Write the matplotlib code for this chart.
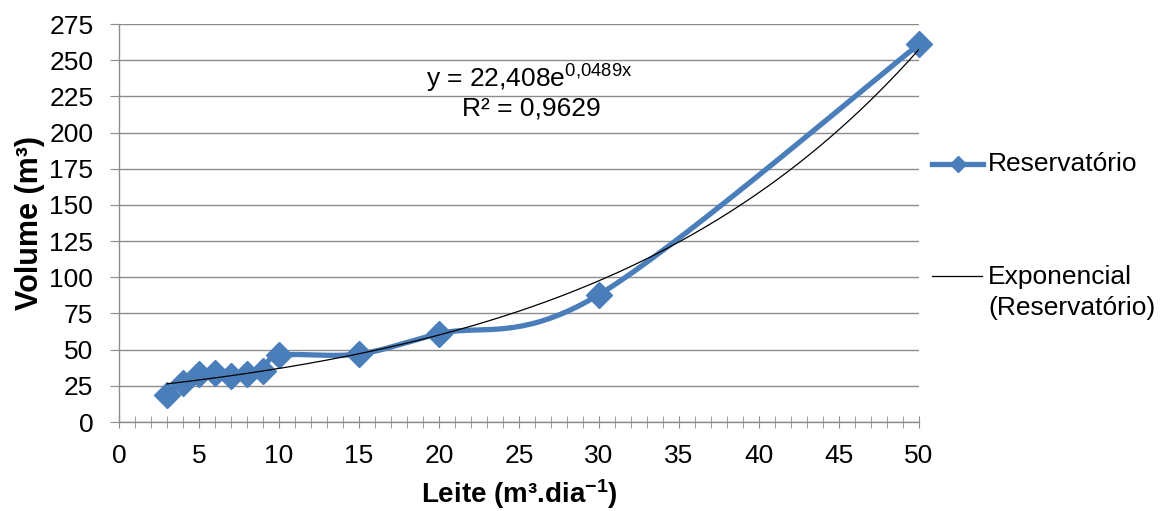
import numpy as np
import matplotlib
matplotlib.use("Agg")
import matplotlib.pyplot as plt
from matplotlib.lines import Line2D

plt.rcParams['font.family'] = ['Liberation Sans', 'DejaVu Sans']
plt.rcParams['mathtext.fontset'] = 'custom'
plt.rcParams['mathtext.rm'] = 'Liberation Sans'
plt.rcParams['mathtext.it'] = 'Liberation Sans'
plt.rcParams['mathtext.bf'] = 'Liberation Sans:bold'

leite = [3, 4, 5, 6, 7, 8, 9, 10, 15, 20, 30, 50]
volume = [19, 27, 33, 34, 32, 33, 35, 46, 47, 61, 88, 261]
series_name = "Reservatório"
trend_lines = ["Exponencial", "(Reservatório)"]
eq_text = r"y = 22,408e$^{\mathregular{0{,}0489x}}$"
r2_text = "R² = 0,9629"
xticks = list(range(0, 51, 5))
yticks = list(range(0, 276, 25))

BLUE = '#4A7EBB'
GRID = '#8C8C8C'
FS = 19


def smooth_curve(xs, ys, n=40):
    P = np.column_stack([xs, ys]).astype(float)
    out = []
    m = len(P)
    for i in range(m - 1):
        p0 = P[i - 1] if i > 0 else P[i]
        p1 = P[i]
        p2 = P[i + 1]
        p3 = P[i + 2] if i + 2 < m else P[i + 1]
        c1 = p1 + (p2 - p0) / 6.0
        c2 = p2 - (p3 - p1) / 6.0
        t = np.linspace(0, 1, n)[:, None]
        seg = ((1 - t) ** 3) * p1 + 3 * ((1 - t) ** 2) * t * c1 + 3 * (1 - t) * t ** 2 * c2 + t ** 3 * p2
        out.append(seg if i == 0 else seg[1:])
    s = np.vstack(out)
    return s[:, 0], s[:, 1]


W, H = 1162, 511
fig = plt.figure(figsize=(W / 100, H / 100), dpi=100)
ax = fig.add_axes([119 / W, 1 - 422 / H, 800 / W, (422 - 24) / H])

ax.set_xlim(0, 50)
ax.set_ylim(0, 275)
ax.set_yticks(yticks)
ax.set_xticks(xticks)
ax.set_xticks(range(0, 51), minor=True)
ax.yaxis.grid(True, color=GRID, lw=1)
ax.set_axisbelow(True)
for s in ['top', 'right']:
    ax.spines[s].set_visible(False)
for s in ['left', 'bottom']:
    ax.spines[s].set_color(GRID)
    ax.spines[s].set_linewidth(1)
ax.tick_params(axis='y', which='major', direction='out', length=6.5, color=GRID, labelsize=FS, pad=12)
ax.tick_params(axis='x', which='both', direction='inout', length=9, color=GRID, labelsize=FS, pad=11)

sx, sy = smooth_curve(leite, volume)
ax.plot(sx, sy, color=BLUE, lw=3.8, solid_capstyle='round', zorder=3, clip_on=False)
ax.plot(leite, volume, ls='none', marker='D', ms=13.5, color=BLUE, zorder=4, clip_on=False)

# exponential trendline fitted from the data
b, a = np.polyfit(np.array(leite, float), np.log(np.array(volume, float)), 1)
tx = np.linspace(min(leite), max(leite), 300)
ax.plot(tx, np.exp(a) * np.exp(b * tx), color='black', lw=0.9, zorder=5)

ax.text(0.513, 0.863, eq_text, transform=ax.transAxes, ha='center', va='center', fontsize=FS)
ax.text(0.516, 0.788, r2_text, transform=ax.transAxes, ha='center', va='center', fontsize=FS)

ax.set_xlabel(r"Leite (m³.dia$^{\mathbf{-1}}$)", fontsize=20, fontweight='bold', labelpad=7)
ax.set_ylabel("Volume (m³)", fontsize=22, fontweight='bold', labelpad=3)

# legend drawn at the reference positions (pixel coords -> figure fraction)
def fx(px):
    return px / W


def fy(py):
    return 1 - py / H


fig.add_artist(Line2D([fx(932), fx(983)], [fy(164), fy(164)], color=BLUE, lw=3.8))
fig.add_artist(Line2D([fx(958)], [fy(164)], color=BLUE, marker='D', ms=8, ls='none'))
fig.text(fx(988), fy(164), series_name, fontsize=FS, va='center', ha='left')
fig.add_artist(Line2D([fx(932), fx(982)], [fy(276), fy(276)], color='black', lw=0.9))
fig.text(fx(988), fy(277), trend_lines[0], fontsize=FS, va='center', ha='left')
fig.text(fx(988), fy(308), trend_lines[1], fontsize=FS, va='center', ha='left')

fig.savefig("out.png", dpi=100)
